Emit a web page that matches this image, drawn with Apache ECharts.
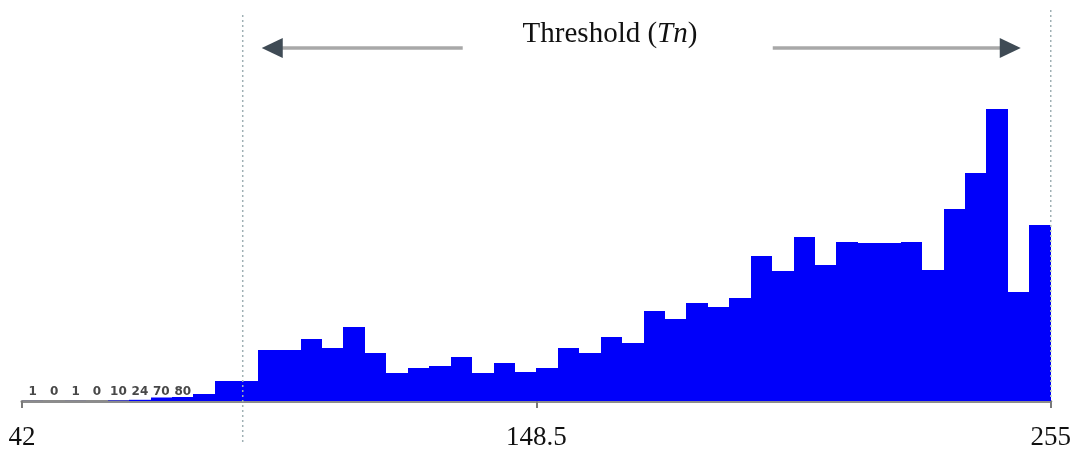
<!DOCTYPE html>
<html>
<head>
<meta charset="utf-8">
<title>Threshold histogram</title>
<script src="https://cdn.jsdelivr.net/npm/echarts@6/dist/echarts.min.js"></script>
<style>
  html, body { margin: 0; padding: 0; background: #fff; }
  #chart { width: 1074px; height: 452px; }
</style>
</head>
<body>
<div id="chart"></div>
<script>
// histogram range and bin counts
var binStart = 42;
var binEnd = 255;
var counts = [
  1, 0, 1, 0, 10, 24, 70, 80, 140, 400,
  400, 1020, 1020, 1240, 1060, 1480, 960, 560, 660, 700,
  880, 560, 760, 580, 660, 1060, 960, 1280, 1160, 1800,
  1640, 1960, 1880, 2060, 2900, 2600, 3280, 2720, 3180, 3160,
  3160, 3180, 2620, 3840, 4560, 5840, 2180, 3520
];
var labeledBins = 8;          // the first bins carry their count as text
var tickValues = [42, 148.5, 255];
var thresholdValues = [87.7, 255];
var titleText = 'Threshold (';

var binWidth = (binEnd - binStart) / counts.length;
var binData = counts.map(function (c, i) {
  return [binStart + i * binWidth, binStart + (i + 1) * binWidth, c];
});

function renderBin(params, api) {
  var top = api.coord([api.value(0), api.value(2)]);
  var bottom = api.coord([api.value(1), 0]);
  var x0 = Math.round(top[0]);
  var x1 = Math.round(bottom[0]);
  var rect = {
    type: 'rect',
    shape: { x: x0, y: top[1], width: x1 - x0, height: bottom[1] - top[1] },
    style: { fill: '#0000fa' }
  };
  if (params.dataIndex >= labeledBins) return rect;
  return {
    type: 'group',
    children: [rect, {
      type: 'text',
      style: {
        text: String(api.value(2)),
        x: (top[0] + bottom[0]) / 2,
        y: bottom[1] - 3,
        align: 'center',
        verticalAlign: 'bottom',
        font: 'bold 12px "DejaVu Sans", sans-serif',
        fill: '#484848'
      }
    }]
  };
}

var chart = echarts.init(document.getElementById('chart'));
chart.setOption({
  animation: false,
  grid: { left: 22, right: 21, top: 101, bottom: 51 },
  xAxis: {
    type: 'value',
    min: binStart,
    max: binEnd,
    offset: 2,
    splitLine: { show: false },
    axisLine: { show: true, lineStyle: { color: '#8c8c8c', width: 3 } },
    axisTick: { show: true, customValues: tickValues, length: 7, lineStyle: { color: '#7a7a7a', width: 2 } },
    axisLabel: {
      customValues: tickValues,
      margin: 21,
      fontFamily: 'Liberation Serif',
      fontSize: 27,
      color: '#111'
    }
  },
  yAxis: { type: 'value', min: 0, max: 6000, show: false },
  series: [{
    type: 'custom',
    renderItem: renderBin,
    encode: { x: [0, 1], y: 2 },
    data: binData
  }]
});

// threshold markers, placed from the axis scale
var leftX = chart.convertToPixel({ xAxisIndex: 0 }, thresholdValues[0]);
var rightX = chart.convertToPixel({ xAxisIndex: 0 }, thresholdValues[1]);
var arrowY = 48;
var dotted = { stroke: '#9fb0b4', lineWidth: 1.5, lineDash: [2, 3] };

chart.setOption({
  graphic: [
    { type: 'line', shape: { x1: leftX, y1: 15, x2: leftX, y2: 442 }, style: dotted, z: 10 },
    { type: 'line', shape: { x1: rightX, y1: 10, x2: rightX, y2: 400 }, style: dotted, z: 10 },
    // left arrow
    { type: 'line', shape: { x1: leftX + 38, y1: arrowY, x2: leftX + 220, y2: arrowY },
      style: { stroke: '#a8a8a8', lineWidth: 3.5 } },
    { type: 'polygon', shape: { points: [[leftX + 19, arrowY], [leftX + 40, arrowY - 10], [leftX + 40, arrowY + 10]] },
      style: { fill: '#3f4b55' } },
    // right arrow
    { type: 'line', shape: { x1: rightX - 278, y1: arrowY, x2: rightX - 48, y2: arrowY },
      style: { stroke: '#a8a8a8', lineWidth: 3.5 } },
    { type: 'polygon', shape: { points: [[rightX - 30, arrowY], [rightX - 51, arrowY - 10], [rightX - 51, arrowY + 10]] },
      style: { fill: '#3f4b55' } },
    {
      type: 'text',
      x: 610, y: 34,
      style: {
        text: '{a|' + titleText + '}{b|Tn}{a|)}',
        align: 'center',
        verticalAlign: 'middle',
        rich: {
          a: { fontFamily: 'Liberation Serif', fontSize: 29, fill: '#111' },
          b: { fontFamily: 'Liberation Serif', fontStyle: 'italic', fontSize: 29, fill: '#111' }
        }
      }
    }
  ]
});

window.onresize = function () { chart.resize(); };
</script>
</body>
</html>
